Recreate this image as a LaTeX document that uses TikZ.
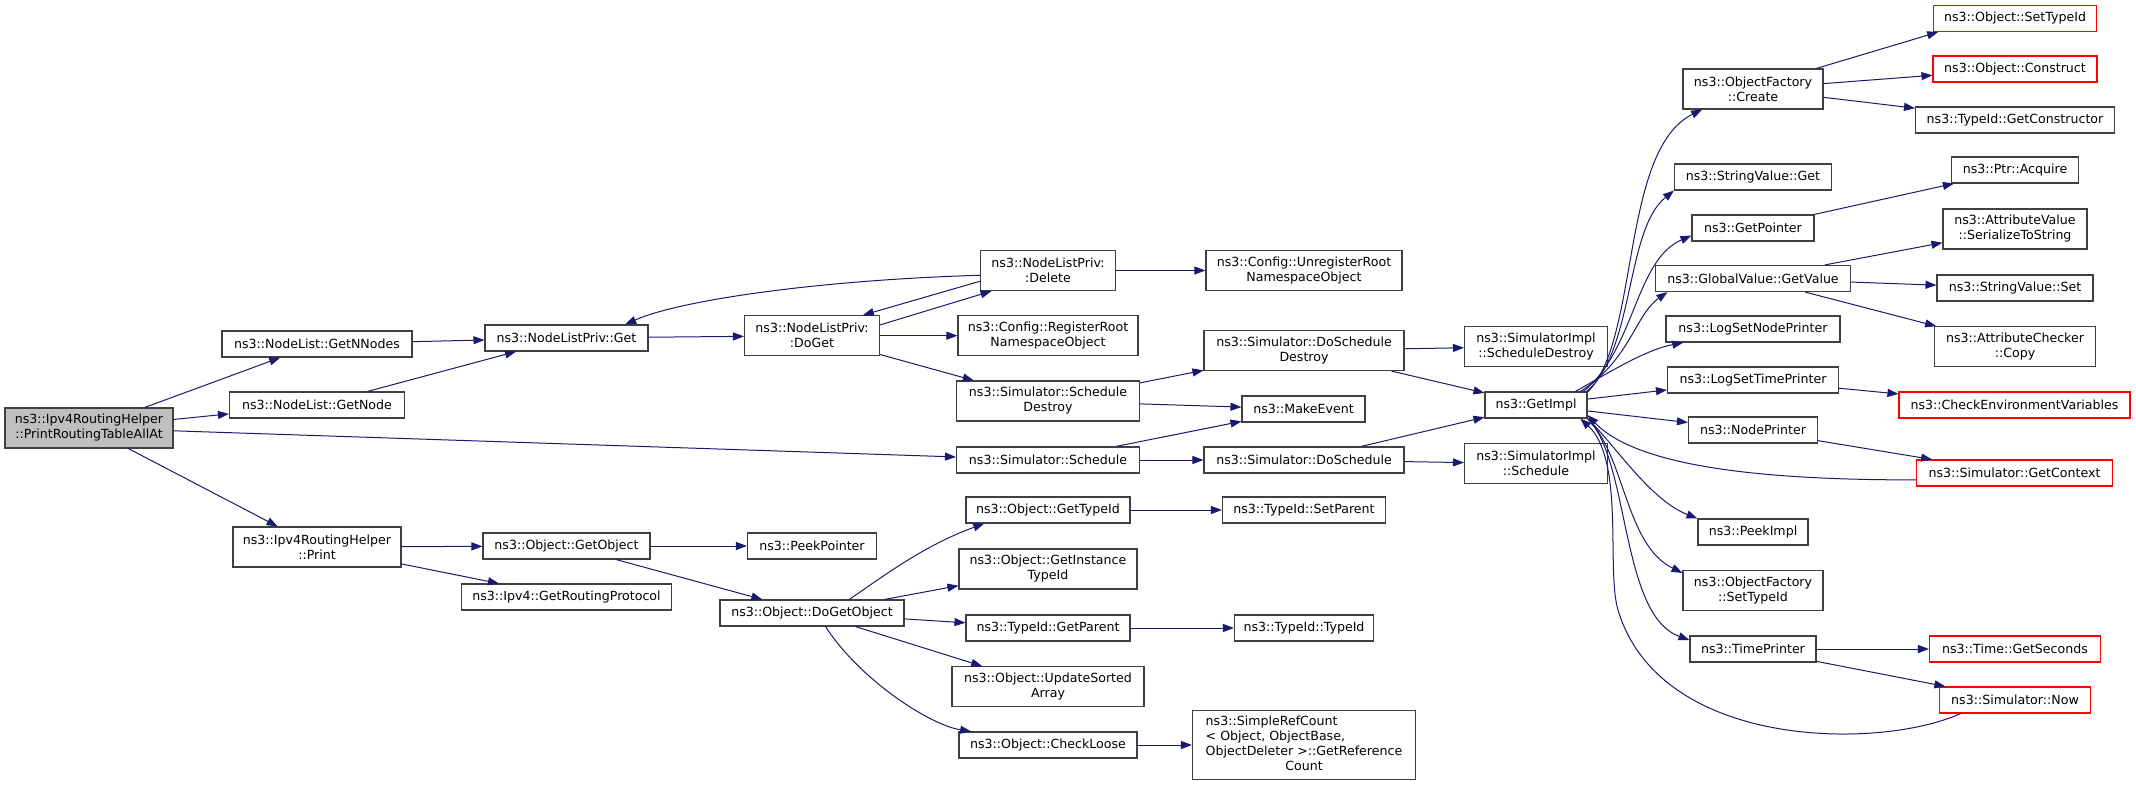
\documentclass[tikz,border=0pt]{standalone}
\usepackage{fontspec}
\newfontfamily\dejavu{DejaVu Sans}
\usepackage{xcolor}
\definecolor{dxblue}{RGB}{25,25,112}
\definecolor{dxgray}{RGB}{191,191,191}
\definecolor{dxframe}{RGB}{64,64,64}
\definecolor{dxred}{RGB}{255,0,0}
\usetikzlibrary{arrows.meta}
\newcommand{\doxfont}{\dejavu\fontsize{12.6}{15}\selectfont}

\begin{document}
\begin{tikzpicture}[
  x=1pt, y=-1pt,
  >={Triangle[length=11pt,width=8pt]},
  fn/.style={draw=dxframe, line width=1.1pt, fill=white, font=\doxfont,
             align=center, inner xsep=1pt, inner ysep=2pt, minimum height=26pt},
  two/.style={minimum height=40pt},
  hot/.style={draw=dxred},
  call/.style={->, dxblue, line width=1pt}
]
\useasboundingbox (0,0) rectangle (2136,785);

% --- Column 0: entry point ---
\node[fn, fill=dxgray, two, minimum width=168pt] (root) at (89,428)
      {ns3::Ipv4RoutingHelper\\::PrintRoutingTableAllAt};

% --- Column 1 ---
\node[fn, minimum width=190pt] (nnodes) at (317,344) {ns3::NodeList::GetNNodes};
\node[fn, minimum width=175pt] (getnode) at (317,405) {ns3::NodeList::GetNode};
\node[fn, two, minimum width=168pt] (printh) at (317,547) {ns3::Ipv4RoutingHelper\\::Print};

% --- Column 2 ---
\node[fn, minimum width=163pt] (privget) at (566.5,338) {ns3::NodeListPriv::Get};
\node[fn, minimum width=167pt] (getobject) at (566.5,546) {ns3::Object::GetObject};
\node[fn, minimum width=210pt] (routingproto) at (566.5,597) {ns3::Ipv4::GetRoutingProtocol};

% --- Column 3 ---
\node[fn, two, minimum width=135pt] (doget) at (812,335.7) {ns3::NodeListPriv:\\:DoGet};
\node[fn, minimum width=129pt] (peekptr) at (812,546) {ns3::PeekPointer};
\node[fn, minimum width=184pt] (dogetobject) at (812,613) {ns3::Object::DoGetObject};

% --- Column 4 ---
\node[fn, two, minimum width=135pt] (delete) at (1048,270.5) {ns3::NodeListPriv:\\:Delete};
\node[fn, two, minimum width=180pt] (reg) at (1048,335.7) {ns3::Config::RegisterRoot\\NamespaceObject};
\node[fn, two, minimum width=183pt] (schdestroy) at (1048,401) {ns3::Simulator::Schedule\\Destroy};
\node[fn, minimum width=183pt] (schedule) at (1048,460) {ns3::Simulator::Schedule};
\node[fn, minimum width=164pt] (gettypeid) at (1048,510) {ns3::Object::GetTypeId};
\node[fn, two, minimum width=178pt] (instancetypeid) at (1048,569) {ns3::Object::GetInstance\\TypeId};
\node[fn, minimum width=164pt] (getparent) at (1048,628) {ns3::TypeId::GetParent};
\node[fn, two, minimum width=192pt] (updatesorted) at (1048,686.7) {ns3::Object::UpdateSorted\\Array};
\node[fn, minimum width=178pt] (checkloose) at (1048,745) {ns3::Object::CheckLoose};

% --- Column 5 ---
\node[fn, two, minimum width=196pt] (unreg) at (1304,270.5) {ns3::Config::UnregisterRoot\\NamespaceObject};
\node[fn, two, minimum width=200pt] (doschdestroy) at (1304,350.5) {ns3::Simulator::DoSchedule\\Destroy};
\node[fn, minimum width=123pt] (makeevent) at (1303.5,409) {ns3::MakeEvent};
\node[fn, minimum width=200pt] (dosched) at (1304,460) {ns3::Simulator::DoSchedule};
\node[fn, minimum width=163pt] (setparent) at (1304,510) {ns3::TypeId::SetParent};
\node[fn, minimum width=139pt] (typeidctor) at (1304,628) {ns3::TypeId::TypeId};
\node[fn, minimum width=223pt, minimum height=69pt] (refcount) at (1304,745)
      {\begin{tabular}{@{}l@{}}ns3::SimpleRefCount\\< Object, ObjectBase,\\
       ObjectDeleter >::GetReference\\\multicolumn{1}{@{}c@{}}{Count}\end{tabular}};

% --- Column 6 ---
\node[fn, two, minimum width=143pt] (implschdestroy) at (1536,346.5) {ns3::SimulatorImpl\\::ScheduleDestroy};
\node[fn, minimum width=102pt] (getimpl) at (1536,405) {ns3::GetImpl};
\node[fn, two, minimum width=143pt] (implsched) at (1536,463.7) {ns3::SimulatorImpl\\::Schedule};

% --- Column 7 ---
\node[fn, two, minimum width=140pt] (ofcreate) at (1753,89) {ns3::ObjectFactory\\::Create};
\node[fn, minimum width=157pt] (svget) at (1753,177) {ns3::StringValue::Get};
\node[fn, minimum width=122pt] (getpointer) at (1753,228) {ns3::GetPointer};
\node[fn, minimum width=195pt] (gvget) at (1753,278.5) {ns3::GlobalValue::GetValue};
\node[fn, minimum width=174pt] (lognode) at (1753,329) {ns3::LogSetNodePrinter};
\node[fn, minimum width=171pt] (logtime) at (1753,380) {ns3::LogSetTimePrinter};
\node[fn, minimum width=129pt] (nodeprinter) at (1753,430) {ns3::NodePrinter};
\node[fn, minimum width=110pt] (peekimpl) at (1753,532) {ns3::PeekImpl};
\node[fn, two, minimum width=140pt] (ofsettypeid) at (1753,590.5) {ns3::ObjectFactory\\::SetTypeId};
\node[fn, minimum width=126pt] (timeprinter) at (1753,649) {ns3::TimePrinter};

% --- Column 8 ---
\node[fn, hot, minimum width=163pt] (objsettypeid) at (2015,18.5) {ns3::Object::SetTypeId};
\node[fn, hot, minimum width=164pt] (construct) at (2015,69) {ns3::Object::Construct};
\node[fn, minimum width=199pt] (getctor) at (2015,120) {ns3::TypeId::GetConstructor};
\node[fn, minimum width=127pt] (acquire) at (2015,170) {ns3::Ptr::Acquire};
\node[fn, two, minimum width=144pt] (serialize) at (2015,229) {ns3::AttributeValue\\::SerializeToString};
\node[fn, minimum width=156pt] (svset) at (2015,288) {ns3::StringValue::Set};
\node[fn, two, minimum width=161pt] (checkercopy) at (2015,346.7) {ns3::AttributeChecker\\::Copy};
\node[fn, hot, minimum width=231pt] (checkenv) at (2014.5,405) {ns3::CheckEnvironmentVariables};
\node[fn, hot, minimum width=196pt] (getcontext) at (2014.5,473) {ns3::Simulator::GetContext};
\node[fn, hot, minimum width=171pt] (getseconds) at (2015,649) {ns3::Time::GetSeconds};
\node[fn, hot, minimum width=151pt] (simnow) at (2015,700) {ns3::Simulator::Now};

% Calls from the entry point
\draw[call] (root) -- (nnodes);
\draw[call] (root) -- (getnode);
\draw[call] (root) -- (schedule);
\draw[call] (root) -- (printh);

% Node list
\draw[call] (nnodes) -- (privget);
\draw[call] (getnode) -- (privget);
\draw[call] (privget) -- (doget);
\draw[call] (doget.9) -- (delete.200);
\draw[call] (delete.189) -- (doget.22);
\draw[call] (delete.184) .. controls (820,280) and (680,300) .. (privget.13);
\draw[call] (delete) -- (unreg);
\draw[call] (doget) -- (reg);
\draw[call] (doget) -- (schdestroy);

% Simulator
\draw[call] (schdestroy) -- (doschdestroy);
\draw[call] (schdestroy) -- (makeevent);
\draw[call] (schedule) -- (makeevent);
\draw[call] (schedule) -- (dosched);
\draw[call] (doschdestroy) -- (implschdestroy);
\draw[call] (doschdestroy) -- (getimpl);
\draw[call] (dosched) -- (getimpl);
\draw[call] (dosched) -- (implsched);

% Objects
\draw[call] (printh) -- (getobject);
\draw[call] (printh) -- (routingproto);
\draw[call] (getobject) -- (peekptr);
\draw[call] (getobject) -- (dogetobject);
\draw[call] (dogetobject.20) .. controls (885,575) and (925,545) .. (gettypeid.192);
\draw[call] (dogetobject) -- (instancetypeid);
\draw[call] (dogetobject) -- (getparent);
\draw[call] (dogetobject) -- (updatesorted);
\draw[call] (dogetobject.-45) .. controls (860,680) and (930,725) .. (checkloose.170);
\draw[call] (gettypeid) -- (setparent);
\draw[call] (getparent) -- (typeidctor);
\draw[call] (checkloose) -- (refcount);

% Fan out of GetImpl
\draw[call] (getimpl.14) .. controls (1640,340) and (1620,150) .. (ofcreate.202);
\draw[call] (getimpl.15) .. controls (1635,350) and (1625,230) .. (svget.south west);
\draw[call] (getimpl.16) .. controls (1635,350) and (1635,260) .. (getpointer.187);
\draw[call] (getimpl.17) .. controls (1630,360) and (1635,315) .. (gvget.189);
\draw[call] (getimpl.19) .. controls (1610,372) and (1645,350) .. (lognode.191);
\draw[call] (getimpl) -- (logtime);
\draw[call] (getimpl) -- (nodeprinter);
\draw[call] (getimpl.south east) .. controls (1615,445) and (1650,500) .. (peekimpl.north west);
\draw[call] (getimpl.south east) .. controls (1625,455) and (1625,545) .. (ofsettypeid.166);
\draw[call] (getimpl.south east) .. controls (1630,460) and (1620,615) .. (timeprinter.172);

% Last column
\draw[call] (ofcreate.18) -- (objsettypeid.190);
\draw[call] (ofcreate) -- (construct);
\draw[call] (ofcreate) -- (getctor);
\draw[call] (getpointer) -- (acquire);
\draw[call] (gvget) -- (serialize);
\draw[call] (gvget) -- (svset);
\draw[call] (gvget) -- (checkercopy);
\draw[call] (logtime) -- (checkenv);
\draw[call] (nodeprinter) -- (getcontext);
\draw[call] (getcontext.184) .. controls (1780,480) and (1640,470) .. (getimpl.-11);
\draw[call] (timeprinter) -- (getseconds);
\draw[call] (timeprinter) -- (simnow);
\draw[call] (simnow.194) .. controls (1880,750) and (1660,750) .. (1618,610)
      .. controls (1606,570) and (1625,460) .. (getimpl.-17);

\end{tikzpicture}
\end{document}
